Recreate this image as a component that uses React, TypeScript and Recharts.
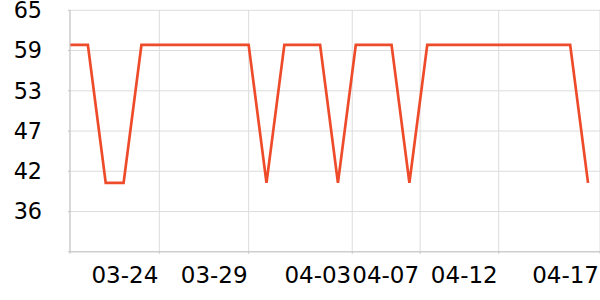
import React from 'react';
import { LineChart, Line, XAxis, YAxis, CartesianGrid } from 'recharts';

const dates = [
  '03-19', '03-20', '03-21', '03-22', '03-23', '03-24', '03-25', '03-26', '03-27', '03-28',
  '03-29', '03-30', '03-31', '04-01', '04-02', '04-03', '04-04', '04-05', '04-06', '04-07',
  '04-08', '04-09', '04-10', '04-11', '04-12', '04-13', '04-14', '04-15', '04-16', '04-17',
];
const values = [
  60, 60, 40, 40, 60, 60, 60, 60, 60, 60,
  60, 40, 60, 60, 60, 40, 60, 60, 60, 40,
  60, 60, 60, 60, 60, 60, 60, 60, 60, 40,
];
const xTickPositions = [0, 5, 10, 15.8, 19.6, 24, 29.67];
const xTickLabels = ['', '03-24', '03-29', '04-03', '04-07', '04-12', '04-17'];
const yTickValues = [30, 35.83, 41.67, 47.5, 53.33, 59.17, 65];
const yTickLabels = ['', '36', '42', '47', '53', '59', '65'];

const data = dates.map((d, i) => ({ i, date: d, value: values[i] }));

const FONT = 'DejaVu Sans';

const XTick = (props: any) => {
  const { x, y, index } = props;
  const label = xTickLabels[index] ?? '';
  if (!label) return null;
  return (
    <text x={x - 1} y={y + 27.5} textAnchor="end" fontSize={23} fontFamily={FONT} fill="#000">
      {label}
    </text>
  );
};

export default function App() {
  return (
    <div style={{ position: 'absolute', left: 0, top: 0 }}>
      <LineChart
        width={600}
        height={300}
        data={data}
        margin={{ top: 10.3, right: 0, bottom: 0, left: 0 }}
      >
        <CartesianGrid stroke="#dcdcdc" strokeWidth={1} />
        <XAxis
          dataKey="i"
          type="number"
          domain={[0, 29.67]}
          allowDataOverflow
          ticks={xTickPositions}
          interval={0}
          height={48.2}
          tickSize={2}
          tickMargin={2}
          stroke="#c4c4c4"
          tick={<XTick />}
        />
        <YAxis
          type="number"
          domain={[30, 65]}
          allowDataOverflow
          ticks={yTickValues}
          interval={0}
          width={70}
          tickSize={2}
          tickMargin={26}
          stroke="#c4c4c4"
          tick={{ fontSize: 22.3, fontFamily: FONT, fill: '#000' }}
          tickFormatter={(v: number, idx: number) => yTickLabels[idx] ?? ''}
        />
        <Line
          type="linear"
          dataKey="value"
          stroke="#ee4b2b"
          strokeWidth={2.7}
          dot={false}
          isAnimationActive={false}
        />
      </LineChart>
    </div>
  );
}
